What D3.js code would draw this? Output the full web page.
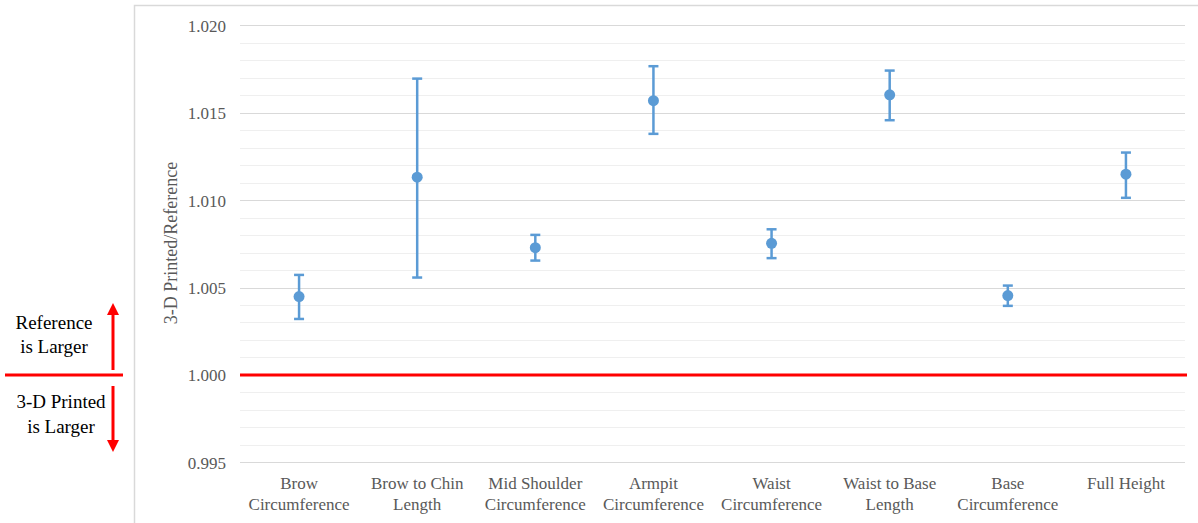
<!DOCTYPE html>
<html lang="en">
    <head>
        <meta charset="utf-8">
        <title>3-D Printed / Reference</title>
        <script src="https://d3js.org/d3.v7.min.js"></script>
        <style type="text/css">
            body { margin: 0; background: #fff; }
        </style>
    </head>
    <body>
        <script type="text/javascript">

            //Data
            const categories = ["Brow\nCircumference", "Brow to Chin\nLength", "Mid Shoulder\nCircumference",
                                "Armpit\nCircumference", "Waist\nCircumference", "Waist to Base\nLength",
                                "Base\nCircumference", "Full Height"];
            const means = [1.00448, 1.01131, 1.00728, 1.01569, 1.00753, 1.01602, 1.00454, 1.01148];
            const upper = [1.00572, 1.01695, 1.00801, 1.01766, 1.00833, 1.01741, 1.00511, 1.01272];
            const lower = [1.00320, 1.00557, 1.00654, 1.01379, 1.00668, 1.01457, 1.00395, 1.01013];
            const majorTicks = [0.995, 1.000, 1.005, 1.010, 1.015, 1.020];
            const minorTicks = d3.range(0, 26).map(i => 0.995 + i * 0.001);

            const w = 1198;
            const h = 523;
            const blue = "#5b9bd5";
            const serif = "'Liberation Serif', serif";

            const svg = d3.select("body")
                    .append("svg")
                    .attr("width", w)
                    .attr("height", h);

            //chart frame
            svg.append("rect")
                .attr("x", 134.5).attr("y", 5.5)
                .attr("width", 1200).attr("height", 600)
                .attr("fill", "none")
                .attr("stroke", "#d9d9d9")
                .attr("stroke-width", 1.5);

            //scales
            const x = d3.scaleBand().domain(categories).range([240, 1185]);
            const y = d3.scaleLinear().domain([0.995, 1.020]).range([462.3, 25.3]);

            //gridlines
            svg.append("g").selectAll("line")
                .data(minorTicks)
                .enter().append("line")
                .attr("x1", 240).attr("x2", 1185)
                .attr("y1", d => Math.round(y(d)) + 0.5)
                .attr("y2", d => Math.round(y(d)) + 0.5)
                .attr("stroke", "#efefef");

            svg.append("g").selectAll("line")
                .data(majorTicks)
                .enter().append("line")
                .attr("x1", 240).attr("x2", 1185)
                .attr("y1", d => Math.round(y(d)) + 0.5)
                .attr("y2", d => Math.round(y(d)) + 0.5)
                .attr("stroke", "#d9d9d9");

            //y axis labels
            const yAxis = svg.append("g")
                .attr("transform", "translate(240,0)")
                .call(d3.axisLeft(y).tickValues(majorTicks).tickFormat(d3.format(".3f")).tickSize(0).tickPadding(14));
            yAxis.select(".domain").remove();
            yAxis.attr("font-family", null).attr("font-size", null);
            yAxis.selectAll("text")
                .attr("dy", "0.35em")
                .style("font-family", serif)
                .style("font-size", "17px")
                .style("fill", "#595959");

            //x axis labels, two lines
            const xAxis = svg.append("g")
                .attr("transform", "translate(0,462)")
                .call(d3.axisBottom(x).tickSize(0).tickFormat(""));
            xAxis.select(".domain").remove();
            xAxis.attr("font-family", null).attr("font-size", null);
            xAxis.selectAll(".tick").each(function(d) {
                const t = d3.select(this).append("text")
                    .attr("text-anchor", "middle")
                    .attr("y", 27)
                    .style("font-family", serif)
                    .style("font-size", "17px")
                    .style("fill", "#595959");
                d.split("\n").forEach((line, i) => {
                    t.append("tspan").attr("x", 0).attr("dy", i === 0 ? 0 : 20.5).text(line);
                });
            });

            //y axis title
            svg.append("text")
                .attr("transform", "translate(177,243) rotate(-90)")
                .attr("text-anchor", "middle")
                .style("font-family", serif)
                .style("font-size", "18px")
                .style("fill", "#595959")
                .text("3-D Printed/Reference");

            //reference line at 1.000
            svg.append("line")
                .attr("x1", 240).attr("x2", 1187)
                .attr("y1", y(1)).attr("y2", y(1))
                .attr("stroke", "#ff0000")
                .attr("stroke-width", 3);

            //error bars
            const bars = svg.append("g").selectAll("g")
                .data(categories)
                .enter().append("g")
                .attr("transform", d => "translate(" + (x(d) + x.bandwidth() / 2) + ",0)");

            bars.append("line")
                .attr("y1", (d, i) => y(upper[i]))
                .attr("y2", (d, i) => y(lower[i]))
                .attr("stroke", blue).attr("stroke-width", 2.5);

            bars.append("line")
                .attr("x1", -5).attr("x2", 5)
                .attr("y1", (d, i) => y(upper[i])).attr("y2", (d, i) => y(upper[i]))
                .attr("stroke", blue).attr("stroke-width", 2.5);

            bars.append("line")
                .attr("x1", -5).attr("x2", 5)
                .attr("y1", (d, i) => y(lower[i])).attr("y2", (d, i) => y(lower[i]))
                .attr("stroke", blue).attr("stroke-width", 2.5);

            bars.append("circle")
                .attr("cy", (d, i) => y(means[i]))
                .attr("r", 5.5)
                .attr("fill", blue);

            //left annotation
            const note = svg.append("g");
            note.append("line")
                .attr("x1", 5).attr("x2", 123)
                .attr("y1", y(1)).attr("y2", y(1))
                .attr("stroke", "#ff0000").attr("stroke-width", 3);

            note.append("line")
                .attr("x1", 113).attr("x2", 113)
                .attr("y1", 370).attr("y2", 312)
                .attr("stroke", "#ff0000").attr("stroke-width", 3);
            note.append("path")
                .attr("d", "M107,315 L113,303 L119,315 Z")
                .attr("fill", "#ff0000");

            note.append("line")
                .attr("x1", 113).attr("x2", 113)
                .attr("y1", 386).attr("y2", 443)
                .attr("stroke", "#ff0000").attr("stroke-width", 3);
            note.append("path")
                .attr("d", "M107,440 L113,452 L119,440 Z")
                .attr("fill", "#ff0000");

            const noteText = [["Reference", 54, 329], ["is Larger", 54, 353],
                              ["3-D Printed", 61, 408], ["is Larger", 61, 433]];
            note.selectAll("text")
                .data(noteText)
                .enter().append("text")
                .attr("x", d => d[1]).attr("y", d => d[2])
                .attr("text-anchor", "middle")
                .style("font-family", serif)
                .style("font-size", "19px")
                .style("fill", "#000")
                .text(d => d[0]);

        </script>
    </body>
</html>
